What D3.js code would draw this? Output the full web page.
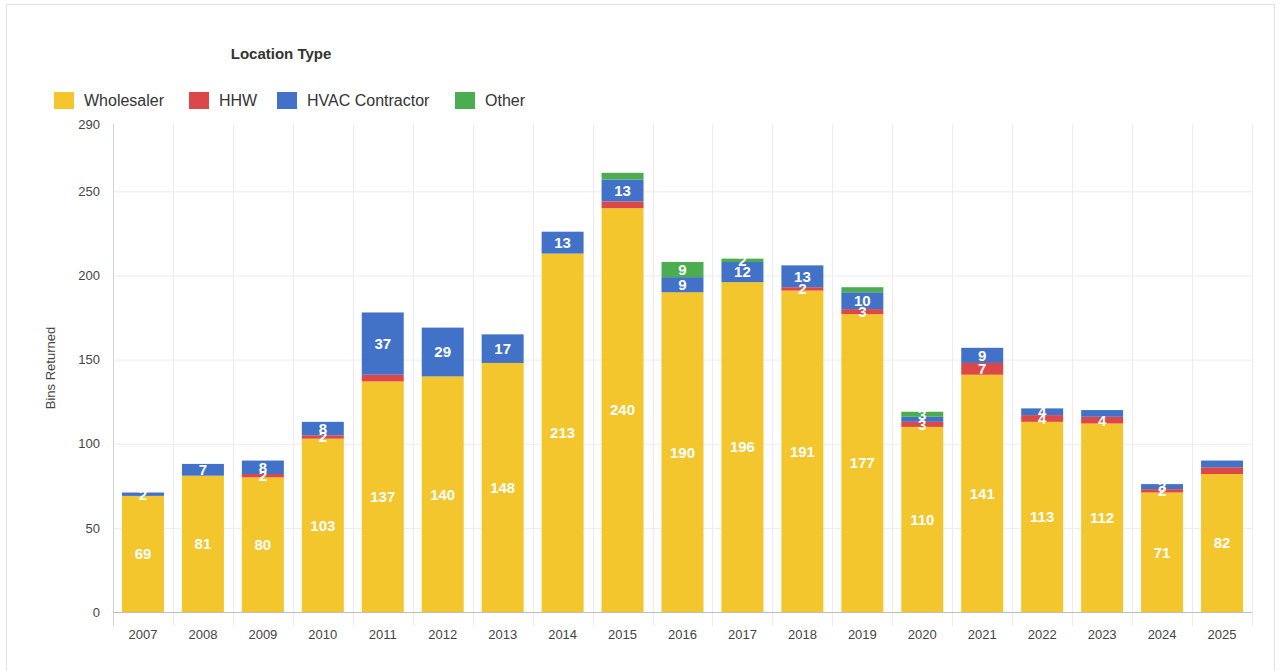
<!DOCTYPE html>
<html>
<head>
<meta charset="utf-8">
<script src="https://cdn.jsdelivr.net/npm/d3@7"></script>
<style>
  html, body { margin: 0; padding: 0; background: #fff; }
  svg { display: block; font-family: "Liberation Sans", Arial, sans-serif; }
</style>
</head>
<body>
<svg id="chart" width="1281" height="671"></svg>
<script>
// ---- data ----
const years = ["2007","2008","2009","2010","2011","2012","2013","2014","2015","2016","2017","2018","2019","2020","2021","2022","2023","2024","2025"];
const seriesNames = ["Wholesaler", "HHW", "HVAC Contractor", "Other"];
const wholesaler = [69, 81, 80, 103, 137, 140, 148, 213, 240, 190, 196, 191, 177, 110, 141, 113, 112, 71, 82];
const hhw        = [0, 0, 2, 2, 4, 0, 0, 0, 4, 0, 0, 2, 3, 3, 7, 4, 4, 2, 4];
const hvac       = [2, 7, 8, 8, 37, 29, 17, 13, 13, 9, 12, 13, 10, 3, 9, 4, 4, 3, 4];
const other      = [0, 0, 0, 0, 0, 0, 0, 0, 4, 9, 2, 0, 3, 3, 0, 0, 0, 0, 0];
const yTicks = [0, 50, 100, 150, 200, 250, 290];
// segments whose value label is not shown in the original
const unlabeled = ["2011|HHW", "2015|HHW", "2015|Other", "2019|Other", "2020|HVAC Contractor", "2023|HVAC Contractor", "2025|HHW", "2025|HVAC Contractor"];

const colors = ["#f2c62c", "#dc4848", "#4272c7", "#4cad50"];

// ---- build table ----
const rows = years.map((y, i) => ({
  year: y,
  "Wholesaler": wholesaler[i],
  "HHW": hhw[i],
  "HVAC Contractor": hvac[i],
  "Other": other[i]
}));
const stacked = d3.stack().keys(seriesNames)(rows);

const svg = d3.select("#chart");

// frame
svg.append("rect").attr("x", 6.5).attr("y", 4.5).attr("width", 1268).attr("height", 680)
  .attr("fill", "none").attr("stroke", "#e2e2e2");

const x = d3.scaleBand().domain(years).range([113, 1252]).paddingInner(0.3).paddingOuter(0.15);
const y = d3.scaleLinear().domain([0, 290]).range([612, 124]);
const color = d3.scaleOrdinal().domain(seriesNames).range(colors);

// horizontal gridlines
svg.append("g").selectAll("line").data(yTicks.filter(t => t > 0 && t < 290)).join("line")
  .attr("x1", 113).attr("x2", 1252)
  .attr("y1", d => y(d) + 0.5).attr("y2", d => y(d) + 0.5)
  .attr("stroke", "#ececec");

// vertical gridlines at band boundaries
const bounds = years.map(d => x(d) - x.step() * x.paddingInner() / 2).concat([1252]);
svg.append("g").selectAll("line").data(bounds).join("line")
  .attr("x1", d => Math.round(d) + 0.5).attr("x2", d => Math.round(d) + 0.5)
  .attr("y1", y(290)).attr("y2", 626)
  .attr("stroke", (d, i) => i === 0 ? "#d4d4d4" : "#ececec");

// bars
const layer = svg.append("g").selectAll("g").data(stacked).join("g")
  .attr("fill", d => color(d.key));
layer.selectAll("rect").data(d => d.map(v => ({ key: d.key, v }))).join("rect")
  .attr("x", d => x(d.v.data.year))
  .attr("width", x.bandwidth())
  .attr("y", d => y(d.v[1]))
  .attr("height", d => y(d.v[0]) - y(d.v[1]));

// value labels
const labelData = [];
stacked.forEach(s => s.forEach(v => {
  const val = v[1] - v[0];
  if (val > 0 && !unlabeled.includes(v.data.year + "|" + s.key)) {
    labelData.push({ year: v.data.year, val, mid: (v[0] + v[1]) / 2 });
  }
}));
svg.append("g").selectAll("text").data(labelData).join("text")
  .attr("x", d => x(d.year) + x.bandwidth() / 2)
  .attr("y", d => y(d.mid))
  .attr("dy", "0.36em")
  .attr("text-anchor", "middle")
  .attr("fill", "#ffffff")
  .attr("font-size", 15)
  .attr("font-weight", "bold")
  .text(d => d.val);

// baseline
svg.append("line").attr("x1", 113).attr("x2", 1252).attr("y1", 612.5).attr("y2", 612.5)
  .attr("stroke", "#bdbdbd");

// y axis
const yAxis = svg.append("g").attr("transform", "translate(100,0)")
  .call(d3.axisLeft(y).tickValues(yTicks).tickSize(0).tickPadding(0));
yAxis.select(".domain").remove();
yAxis.selectAll("text").attr("font-size", 13).attr("fill", "#444")
  .attr("font-family", "Liberation Sans, Arial, sans-serif");

// x axis
const xAxis = svg.append("g").attr("transform", "translate(0,628)")
  .call(d3.axisBottom(x).tickSize(0).tickPadding(2));
xAxis.select(".domain").remove();
xAxis.selectAll("text").attr("font-size", 13).attr("fill", "#444")
  .attr("font-family", "Liberation Sans, Arial, sans-serif");

// y title
svg.append("text").attr("transform", "translate(55,368) rotate(-90)")
  .attr("text-anchor", "middle").attr("font-size", 13).attr("fill", "#444")
  .text("Bins Returned");

// legend title
svg.append("text").attr("x", 281).attr("y", 59).attr("text-anchor", "middle")
  .attr("font-size", 15).attr("font-weight", "bold").attr("fill", "#333")
  .text("Location Type");

// legend
const legendX = [54, 189, 277, 455];
const leg = svg.append("g").selectAll("g").data(seriesNames).join("g")
  .attr("transform", (d, i) => `translate(${legendX[i]},92)`);
leg.append("rect").attr("width", 20).attr("height", 17).attr("fill", d => color(d));
leg.append("text").attr("x", 30).attr("y", 8.5).attr("dy", "0.35em")
  .attr("font-size", 16).attr("fill", "#333").text(d => d);
</script>
</body>
</html>
